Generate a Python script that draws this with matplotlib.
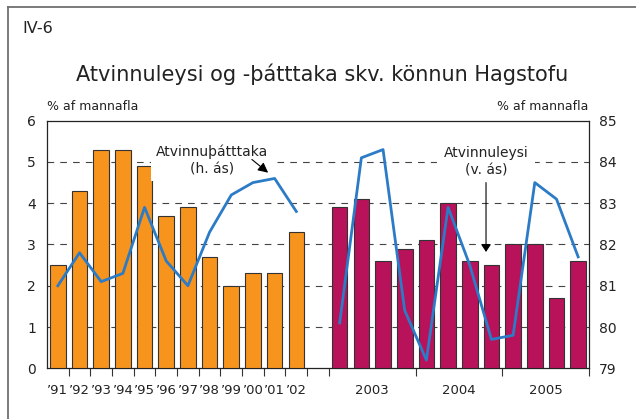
import numpy as np
import matplotlib
matplotlib.use("Agg")
import matplotlib.pyplot as plt
from matplotlib.lines import Line2D

# Atvinnuleysi (% af mannafla), ársgildi 1991-2002
years = ["’91", "’92", "’93", "’94", "’95", "’96", "’97", "’98", "’99", "’00", "’01", "’02"]
unemp_year = [2.5, 4.3, 5.3, 5.3, 4.9, 3.7, 3.9, 2.7, 2.0, 2.3, 2.3, 3.3]
part_year = [81.0, 81.8, 81.1, 81.3, 82.9, 81.6, 81.0, 82.3, 83.2, 83.5, 83.6, 82.8]

# Ársfjórðungsgildi 2003-2005
quarter_years = ["2003", "2004", "2005"]
unemp_q = [3.9, 4.1, 2.6, 2.9, 3.1, 4.0, 2.6, 2.5, 3.0, 3.0, 1.7, 2.6]
part_q = [80.1, 84.1, 84.3, 80.4, 79.2, 82.9, 81.5, 79.7, 79.8, 83.5, 83.1, 81.7]

orange = "#F7941D"
magenta = "#B8125B"
blue = "#2B7BC6"

# x positions: one slot per year, an empty slot, then one slot per quarter
x_year = np.arange(len(years))
x_q = np.arange(len(unemp_q)) + len(years) + 1

fig = plt.figure(figsize=(6.36, 4.19), dpi=100)
ax = fig.add_axes([0.0739, 0.121, 0.8522, 0.591])

ax.bar(x_year, unemp_year, width=0.72, color=orange, edgecolor="#333333",
       linewidth=0.8, zorder=3)
ax.bar(x_q, unemp_q, width=0.72, color=magenta, edgecolor="#333333",
       linewidth=0.8, zorder=3)

ax.set_xlim(-0.5, x_q[-1] + 0.5)
ax.set_ylim(0, 6)
ax.set_yticks(range(0, 7))
for yv in range(1, 6):
    ax.axhline(yv, color="#444444", lw=0.8, ls=(0, (6, 5.5)), zorder=1)

# boundary ticks below the axis, labels in between
bounds = list(np.arange(0.5, len(years) + 1.5, 1.0)) + [x_q[0] - 0.5 + 4 * k for k in (1, 2, 3)]
ax.set_xticks(bounds)
ax.set_xticklabels([])
ax.tick_params(axis="x", which="major", direction="out", length=6, width=0.8, color="#333333")
label_pos = list(x_year) + [x_q[0] + 1.5 + 4 * k for k in range(3)]
ax.set_xticks(label_pos, minor=True)
ax.set_xticklabels(years + quarter_years, minor=True)
ax.tick_params(axis="x", which="minor", length=0, pad=11, labelsize=9.5, colors="#222222")
ax.tick_params(axis="y", length=0, pad=8, labelsize=10, colors="#222222")

for sp in ax.spines.values():
    sp.set_linewidth(0.9)
    sp.set_color("#222222")

# participation line on the right axis
ax2 = ax.twinx()
ax2.plot(x_year, part_year, color=blue, lw=2.0, zorder=5)
ax2.plot(x_q, part_q, color=blue, lw=2.0, zorder=5)
ax2.set_ylim(79, 85)
ax2.set_yticks(range(79, 86))
ax2.tick_params(axis="y", length=0, pad=7, labelsize=10, colors="#222222")
for sp in ax2.spines.values():
    sp.set_visible(False)

# labels with arrows
ax.text(7.1, 5.04, "Atvinnuþátttaka\n(h. ás)", ha="center", va="center", fontsize=10,
        color="#222222", linespacing=1.35, zorder=4,
        bbox=dict(facecolor="white", edgecolor="none", pad=3))
ax.annotate("", xy=(9.7, 4.74), xytext=(8.95, 5.06),
            arrowprops=dict(arrowstyle="-|>,head_length=0.6,head_width=0.3",
                            color="black", lw=0.8, shrinkA=0, shrinkB=0), zorder=4)
ax.text(19.75, 5.01, "Atvinnuleysi\n(v. ás)", ha="center", va="center", fontsize=10,
        color="#222222", linespacing=1.35, zorder=4,
        bbox=dict(facecolor="white", edgecolor="none", pad=5))
ax.annotate("", xy=(19.75, 2.82), xytext=(19.75, 4.5),
            arrowprops=dict(arrowstyle="-|>,head_length=0.45,head_width=0.3",
                            color="black", lw=0.8, shrinkA=0, shrinkB=0), zorder=4)

fig.text(0.074, 0.745, "% af mannafla", ha="left", va="center", fontsize=9, color="#222222")
fig.text(0.925, 0.745, "% af mannafla", ha="right", va="center", fontsize=9, color="#222222")
fig.text(0.507, 0.822, "Atvinnuleysi og -þátttaka skv. könnun Hagstofu", ha="center",
         va="center", fontsize=15, color="#222222")
fig.text(0.035, 0.933, "IV-6", ha="left", va="center", fontsize=11.5, color="#222222")

# outer frame: top and left edges
fig.add_artist(Line2D([0.013, 1.0], [0.983, 0.983], color="#707070", lw=1.3))
fig.add_artist(Line2D([0.013, 0.013], [0.0, 0.983], color="#707070", lw=1.3))

fig.savefig("out.png", dpi=100)
